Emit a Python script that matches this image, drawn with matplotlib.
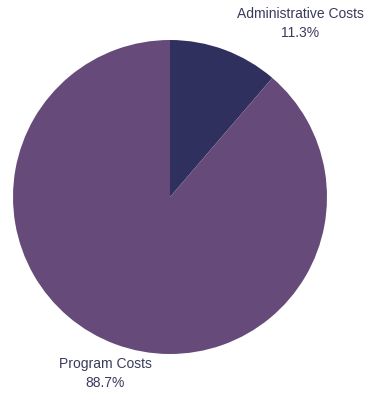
import matplotlib.pyplot as plt

# 数据
categories = ['Administrative Costs', 'Program Costs']
values = [11.3, 88.7]
colors = ['#30305f', '#664a7a']

plt.rcParams['font.family'] = ['Liberation Sans', 'DejaVu Sans']

fig = plt.figure(figsize=(3.65, 3.93), dpi=100)
ax = fig.add_axes([0, 0, 1, 1])

ax.pie(values, colors=colors, startangle=90, counterclock=False,
       center=(170, 196), radius=157, frame=True,
       wedgeprops=dict(linewidth=0))
ax.set_xlim(0, 365)
ax.set_ylim(0, 393)
ax.set_aspect('auto')
ax.axis('off')

# 标签
label_pos = [(300, 369.5), (105.5, 19.5)]
for name, v, (x, y) in zip(categories, values, label_pos):
    ax.text(x, y, f'{name}\n{v:.1f}%', ha='center', va='center',
            fontsize=10, color='#3a3a5c', linespacing=1.45)

fig.savefig('out.png', dpi=100)
